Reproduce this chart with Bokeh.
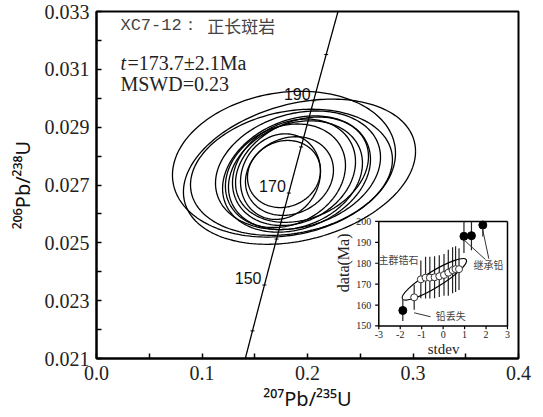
import numpy as np
from bokeh.plotting import figure
from bokeh.models import Range1d, FixedTicker, PrintfTickFormatter
from bokeh.core.properties import value
from bokeh.embed import file_html
from bokeh.resources import INLINE

# ---------------- main concordia diagram data ----------------
x_ticks = [0.0, 0.1, 0.2, 0.3, 0.4]
x_minor_ticks = [0.05, 0.15, 0.25, 0.35]
y_ticks = [0.021, 0.023, 0.025, 0.027, 0.029, 0.031, 0.033]
y_minor_ticks = [0.022, 0.024, 0.026, 0.028, 0.030, 0.032]

# error ellipses (207Pb/235U centre, 206Pb/238U centre, half-extents, correlation)
ell_x = [0.1777, 0.1924, 0.1848, 0.1896, 0.1886, 0.1872, 0.1777, 0.1829, 0.1744, 0.1791, 0.1948, 0.1910]
ell_y = [0.02772, 0.02746, 0.02744, 0.02738, 0.02734, 0.02744, 0.02738, 0.02731, 0.02729, 0.02732, 0.02753, 0.02751]
ell_sx = [0.1057, 0.1100, 0.0957, 0.0701, 0.0635, 0.0583, 0.0346, 0.0417, 0.0379, 0.0569, 0.0630, 0.0782]
ell_sy = [0.00252, 0.00251, 0.00218, 0.00201, 0.00188, 0.00184, 0.00116, 0.00136, 0.00148, 0.00179, 0.00182, 0.00205]
ell_rho = [0.15, 0.28, 0.2, 0.25, 0.22, 0.2, 0.1, 0.15, 0.12, 0.2, 0.25, 0.22]

# concordia ages (Ma)
age_labels = [150, 170, 190]
age_marks = [140, 150, 160, 170, 180, 190, 200, 210]

# ---------------- inset data ----------------
open_x = [-1.35, -1.04, -0.82, -0.62, -0.40, -0.18, 0.04, 0.24, 0.44, 0.58, 0.74]
open_y = [163.7, 172.3, 173.1, 173.1, 173.3, 173.8, 174.4, 175.5, 176.7, 177.2, 177.2]
open_err = [6, 9, 10, 10, 10, 10, 10, 11, 11, 11, 10]
fill_x = [-1.88, 0.97, 1.32, 1.85]
fill_y = [157.4, 192.9, 193.2, 198.3]
fill_err = [5, 8, 7, 5.5]
inset_x_ticks = [-3, -2, -1, 0, 1, 2, 3]
inset_y_ticks = [150, 160, 170, 180, 190, 200]
group_centre = (-0.41, 172.3)

# ---------------- figure ----------------
W, H = 540, 414
p = figure(width=W, height=H, output_backend="svg", toolbar_location=None,
           x_range=Range1d(0.0, 0.4), y_range=Range1d(0.021, 0.033),
           min_border_left=96, min_border_right=W - 518, min_border_top=11,
           min_border_bottom=H - 363)
p.background_fill_color = "white"
p.border_fill_color = "white"
p.outline_line_color = "black"
p.outline_line_width = 2
p.grid.visible = False

for ax in (p.xaxis[0], p.yaxis[0]):
    ax.axis_line_width = 2
    ax.major_tick_in = 5
    ax.major_tick_out = 0
    ax.minor_tick_in = 5
    ax.minor_tick_out = 0
    ax.major_tick_line_width = 1.5
    ax.minor_tick_line_width = 1.5
    ax.major_label_text_font = "Liberation Serif"
    ax.major_label_text_font_size = "20px"
    ax.major_label_text_color = "#222222"
    ax.axis_label_text_font = "Noto Sans"
    ax.axis_label_text_font_style = "normal"
    ax.axis_label_text_font_size = "20px"
    ax.axis_label_text_color = "#111111"

p.xaxis.ticker = FixedTicker(ticks=x_ticks, minor_ticks=x_minor_ticks)
p.yaxis.ticker = FixedTicker(ticks=y_ticks, minor_ticks=y_minor_ticks)
p.xaxis.formatter = PrintfTickFormatter(format="%.1f")
p.yaxis.formatter = PrintfTickFormatter(format="%.3f")
p.xaxis.major_label_standoff = 7
p.yaxis.major_label_standoff = 7
p.xaxis.axis_label = "²⁰⁷Pb/²³⁵U"
p.yaxis.axis_label = "²⁰⁶Pb/²³⁸U"
p.xaxis.axis_label_standoff = 2
p.yaxis.axis_label_standoff = 6

# concordia curve
L238, L235 = 1.55125e-10, 9.8485e-10
def conc(t_ma):
    t = np.asarray(t_ma, dtype=float) * 1e6
    return np.exp(L235 * t) - 1.0, np.exp(L238 * t) - 1.0

tc = np.linspace(120, 230, 300)
cx, cy = conc(tc)
p.line(cx, cy, line_color="black", line_width=1.3)

mx, my = conc(age_marks)
p.scatter(mx, my, marker="dash", size=4, line_color="black", line_width=1, angle=0.0)

lx, ly = conc(age_labels)
p.text(lx, ly, text=[str(a) for a in age_labels], text_align="right", text_baseline="middle",
       x_offset=-3, y_offset=-7, text_font=value("Liberation Sans"), text_font_size="16px",
       text_color="#111111")

# ellipses
th = np.linspace(0, 2 * np.pi, 200)
xs, ys = [], []
for x0, y0, sx, sy, r in zip(ell_x, ell_y, ell_sx, ell_sy, ell_rho):
    xs.append(x0 + sx * np.cos(th))
    ys.append(y0 + sy * (r * np.cos(th) + np.sqrt(1 - r * r) * np.sin(th)))
p.multi_line(xs, ys, line_color="black", line_width=1.3)

# annotations
p.text([0.0227], [0.03252], text=["XC7-12："], text_baseline="middle",
       text_font=value("Liberation Mono"), text_font_size="17px", text_color="#444444")
p.text([0.105], [0.03252], text=["正长斑岩"], text_baseline="middle",
       text_font=value("Noto Sans CJK SC"), text_font_size="17px", text_color="#444444")
p.text([0.0227], [0.03123], text=["t"], text_baseline="middle", text_font_style="italic",
       text_font=value("Liberation Serif"), text_font_size="20px", text_color="#222222")
p.text([0.0227], [0.03123], text=["=173.7±2.1Ma"], text_baseline="middle", x_offset=7,
       text_font=value("Liberation Serif"), text_font_size="20px", text_color="#222222")
p.text([0.0227], [0.03048], text=["MSWD=0.23"], text_baseline="middle",
       text_font=value("Liberation Serif"), text_font_size="20px", text_color="#222222")

# ---------------- inset (drawn through its own ranges) ----------------
p.extra_x_ranges = {"ix": Range1d(-16.16, 3.513)}
p.extra_y_ranges = {"iy": Range1d(134.43, 300.47)}
IR = dict(x_range_name="ix", y_range_name="iy")
ix0, ix1 = inset_x_ticks[0], inset_x_ticks[-1]
iy0, iy1 = inset_y_ticks[0], inset_y_ticks[-1]

# frame
p.segment(x0=[ix0, ix0, ix0, ix1], y0=[iy0, iy1, iy0, iy0],
          x1=[ix1, ix1, ix0, ix1], y1=[iy0, iy1, iy1, iy1],
          line_color="black", line_width=1.5, **IR)
# ticks
p.segment(x0=inset_x_ticks, y0=[iy0] * len(inset_x_ticks), x1=inset_x_ticks,
          y1=[iy0 - 1.6] * len(inset_x_ticks), line_color="black", line_width=1.2, **IR)
p.segment(x0=[ix0] * len(inset_y_ticks), y0=inset_y_ticks, x1=[ix0 - 0.17] * len(inset_y_ticks),
          y1=inset_y_ticks, line_color="black", line_width=1.2, **IR)
p.text(inset_x_ticks, [iy0 - 2.2] * len(inset_x_ticks), text=[str(v) for v in inset_x_ticks],
       text_align="center", text_baseline="top", text_font=value("Liberation Serif"),
       text_font_size="10px", text_color="#222222", **IR)
p.text([ix0 - 0.35] * len(inset_y_ticks), inset_y_ticks, text=[str(v) for v in inset_y_ticks],
       text_align="right", text_baseline="middle", text_font=value("Liberation Serif"),
       text_font_size="10px", text_color="#222222", **IR)
p.text([-4.65], [180.2], text=["data(Ma)"], angle=np.pi / 2, text_align="center",
       text_baseline="middle", text_font=value("Liberation Serif"), text_font_size="16px",
       text_color="#222222", **IR)
p.text([0.02], [139.2], text=["stdev"], text_align="center", text_baseline="middle",
       text_font=value("Liberation Serif"), text_font_size="15px", text_color="#222222", **IR)

# error bars
ox, oy, oe = np.array(open_x), np.array(open_y), np.array(open_err)
fx, fy, fe = np.array(fill_x), np.array(fill_y), np.array(fill_err)
p.segment(x0=ox, y0=np.maximum(oy - oe, iy0), x1=ox, y1=np.minimum(oy + oe, iy1),
          line_color="#222222", line_width=1.2, **IR)
p.segment(x0=fx, y0=np.maximum(fy - fe, iy0), x1=fx, y1=np.minimum(fy + fe, iy1),
          line_color="#222222", line_width=1.2, **IR)

# group ellipse
p.ellipse(x=[group_centre[0]], y=[group_centre[1]], width=75, height=16,
          width_units="screen", height_units="screen", angle=0.55,
          fill_color=None, line_color="black", line_width=1.2, **IR)

p.scatter(ox, oy, size=7, marker="circle", fill_color="white", line_color="#333333",
          line_width=1, **IR)
p.scatter(fx, fy, size=8, marker="circle", fill_color="black", line_color="black", **IR)

# pointers
p.segment(x0=[-1.35, 0.97, 1.83], y0=[156.3, 191.2, 196.7],
          x1=[-0.59, 1.97, 2.13], y1=[154.4, 181.8, 182.2],
          line_color="#333333", line_width=1, **IR)
p.text([-2.08, 2.12, 0.36], [181.6, 179.4, 155.2], text=["主群锆石", "继承铅", "铅丢失"],
       text_align="center", text_baseline="middle", text_font=value("Noto Sans CJK SC"),
       text_font_size="10px", text_color="#444444", **IR)

open("out.html", "w").write(file_html(p, INLINE))
